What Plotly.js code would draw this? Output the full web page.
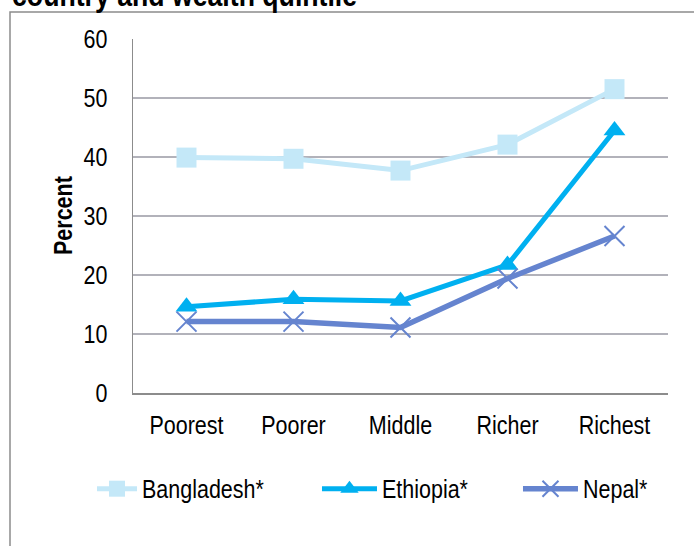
<!DOCTYPE html>
<html>
<head>
<meta charset="utf-8">
<script src="https://cdn.plot.ly/plotly-3.0.1.min.js"></script>
<style>html,body{margin:0;padding:0;background:#fff;}#chart{width:694px;height:546px;}</style>
</head>
<body>
<div id="chart"></div>
<script>
const categories = ["Poorest", "Poorer", "Middle", "Richer", "Richest"];
const bangladesh = [39.9, 39.7, 37.7, 42.1, 51.5];
const ethiopia = [14.6, 15.9, 15.6, 21.7, 44.5];
const nepal = [12.1, 12.1, 11.1, 19.4, 26.6];
const yTicks = [0, 10, 20, 30, 40, 50, 60];
const titleText = "country and wealth quintile";
const yTitle = "Percent";

const FONT = "'Liberation Sans', Arial, sans-serif";
const NARROW = 0.86;

const traces = [
  {
    x: categories, y: bangladesh, name: "Bangladesh*", type: "scatter", mode: "lines+markers",
    line: {color: "#c4e8f8", width: 5},
    marker: {symbol: "square", size: 20, color: "#c4e8f8"},
    legend: "legend"
  },
  {
    x: categories, y: ethiopia, name: "Ethiopia*", type: "scatter", mode: "lines+markers",
    line: {color: "#00b0f0", width: 5},
    marker: {symbol: "triangle-up", size: 19, color: "#00b0f0"},
    legend: "legend2"
  },
  {
    x: categories, y: nepal, name: "Nepal*", type: "scatter", mode: "lines+markers",
    line: {color: "#6584cf", width: 5.5},
    marker: {symbol: "x-thin", size: 20, line: {color: "#6584cf", width: 2}},
    legend: "legend3"
  }
];

function leg(x, iw) {
  return {
    x: x, xanchor: "left", y: -0.271, yanchor: "middle",
    orientation: "h", font: {family: FONT, size: 25, color: "#000"},
    bgcolor: "rgba(0,0,0,0)", itemwidth: iw, borderwidth: 0
  };
}

const layout = {
  width: 694, height: 546,
  margin: {l: 133, r: 26, t: 39, b: 153},
  paper_bgcolor: "#fff", plot_bgcolor: "#fff",
  font: {family: FONT, size: 25, color: "#000"},
  showlegend: true,
  legend: leg(-0.0766, 40),
  legend2: leg(0.3439, 55),
  legend3: leg(0.7196, 55),
  xaxis: {
    type: "category", range: [-0.5, 4.5],
    showgrid: false, zeroline: false,
    showline: true, linecolor: "#8c8c8c", linewidth: 1.5,
    ticks: "", ticklabelstandoff: 10,
    tickfont: {family: FONT, size: 25, color: "#000"},
    fixedrange: true
  },
  yaxis: {
    range: [0, 60], tickvals: yTicks, ticktext: yTicks.map(String),
    showgrid: true, gridcolor: "#b2b2ba", gridwidth: 1.3,
    zeroline: false, showline: true, linecolor: "#8c8c8c", linewidth: 1.5,
    ticks: "", ticklabelstandoff: 19,
    tickfont: {family: FONT, size: 25, color: "#000"},
    fixedrange: true
  },
  shapes: [
    {type: "rect", xref: "paper", yref: "paper",
     x0: (10 - 133) / 535, x1: (700 - 133) / 535,
     y0: (393 - 560) / 354, y1: (393 - 12) / 354,
     line: {color: "#8c8c8c", width: 1.5}, fillcolor: "rgba(0,0,0,0)", layer: "below"}
  ],
  annotations: [
    {text: "<b>" + titleText + "</b>", xref: "paper", yref: "paper",
     x: (10 - 133) / 535, xanchor: "left", y: (393 + 4) / 354, yanchor: "middle",
     showarrow: false, font: {family: FONT, size: 31, color: "#000"}},
    {text: "<b>" + yTitle + "</b>", xref: "paper", yref: "paper",
     x: (63 - 133) / 535, xanchor: "center", y: (393 - 215.5) / 354, yanchor: "middle",
     textangle: -90, showarrow: false, font: {family: FONT, size: 25, color: "#000"}}
  ]
};

// Reference uses a narrow typeface; condense the real text horizontally along its direction.
function condense(gd) {
  gd.querySelectorAll("svg text").forEach(function (t) {
    if (!t.textContent) return;
    const bb = t.getBBox();
    const anchor = t.getAttribute("text-anchor") || "start";
    let ox = bb.x;
    if (t.textContent === titleText) ox = bb.x;
    else if (anchor === "middle") ox = bb.x + bb.width / 2;
    else if (anchor === "end") ox = bb.x + bb.width;
    const oy = bb.y + bb.height / 2;
    const prev = t.getAttribute("transform") || "";
    t.setAttribute("transform", prev + " translate(" + ox + "," + oy + ") scale(" + NARROW + ",1) translate(" + (-ox) + "," + (-oy) + ")");
  });
}

Plotly.newPlot("chart", traces, layout, {displayModeBar: false, staticPlot: true}).then(condense);
</script>
</body>
</html>
